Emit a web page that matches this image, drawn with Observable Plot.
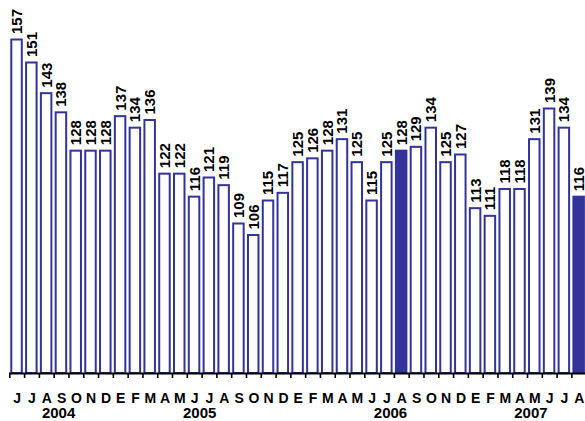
<!DOCTYPE html>
<html>
<head>
<meta charset="utf-8">
<script src="https://cdn.jsdelivr.net/npm/d3@7"></script>
<script src="https://cdn.jsdelivr.net/npm/@observablehq/plot@0.6"></script>
<style>
  html, body { margin: 0; padding: 0; background: #fff; overflow: hidden; }
  #chart svg { display: block; }
</style>
</head>
<body>
<div id="chart"></div>
<script>
// Monthly index, June 2004 – August 2007
const periods = [
  "2004-06","2004-07","2004-08","2004-09","2004-10","2004-11","2004-12",
  "2005-01","2005-02","2005-03","2005-04","2005-05","2005-06","2005-07","2005-08","2005-09","2005-10","2005-11","2005-12",
  "2006-01","2006-02","2006-03","2006-04","2006-05","2006-06","2006-07","2006-08","2006-09","2006-10","2006-11","2006-12",
  "2007-01","2007-02","2007-03","2007-04","2007-05","2007-06","2007-07","2007-08"
];
const values = [
  157,151,143,138,128,128,128,
  137,134,136,122,122,116,121,119,109,106,115,117,
  125,126,128,131,125,115,125,128,129,134,125,127,
  113,111,118,118,131,139,134,116
];
const monthLabels = [
  "J","J","A","S","O","N","D",
  "E","F","M","A","M","J","J","A","S","O","N","D",
  "E","F","M","A","M","J","J","A","S","O","N","D",
  "E","F","M","A","M","J","J","A"
];
const highlighted = ["2006-08","2007-08"];
const yearLabels = ["2004","2005","2006","2007"];
const yearAnchors = ["2004-09","2005-06","2006-07","2007-05"];
const yBase = 70;
const yTop = 160;

const blue = "#333399";
const font = "'Liberation Sans', Arial, Helvetica, sans-serif";

const data = periods.map((p, i) => ({
  period: p,
  value: values[i],
  letter: monthLabels[i],
  filled: highlighted.includes(p)
}));

const W = 585, H = 421;
const xRange = [9.3, 586.2];
const step = (xRange[1] - xRange[0]) / periods.length;
const yearNudge = [-3, 5, 3.5, -4];

const chart = Plot.plot({
  width: W,
  height: H,
  marginTop: 28,
  marginBottom: 48,
  marginLeft: 9,
  marginRight: 0,
  style: {fontFamily: font, background: "#fff", color: "#000"},
  x: {domain: periods, range: xRange, padding: 0, axis: null},
  y: {domain: [yBase, yTop], axis: null},
  marks: [
    Plot.barY(data, {
      x: "period",
      y1: yBase,
      y2: "value",
      insetLeft: 2,
      insetRight: 2.3,
      fill: d => d.filled ? blue : "#fff",
      stroke: blue,
      strokeWidth: 2
    }),
    // value labels, reading upward from the top of each bar
    Plot.text(data, {
      x: "period",
      y: "value",
      text: d => String(d.value),
      rotate: -90,
      textAnchor: "start",
      dy: -6,
      fontSize: 15,
      fontWeight: "bold",
      fill: "#000"
    }),
    // baseline
    Plot.ruleY([yBase], {stroke: "#000", strokeWidth: 2}),
    // tick marks on the month boundaries
    Plot.axisX({
      tickSize: 5,
      tickFormat: () => "",
      label: null,
      dx: -step / 2,
      stroke: "#000",
      strokeWidth: 1.6
    }),
    // month initials
    Plot.text(data, {
      x: "period",
      text: "letter",
      frameAnchor: "bottom",
      lineAnchor: "top",
      dy: 20,
      fontSize: 14,
      fontWeight: "bold",
      fill: "#000"
    }),
    // years
    ...yearLabels.map((label, i) =>
      Plot.text([label], {
        x: () => yearAnchors[i],
        text: d => d,
        frameAnchor: "bottom",
        lineAnchor: "top",
        dy: 34,
        dx: yearNudge[i],
        fontSize: 15,
        fontWeight: "bold",
        fill: "#000"
      })
    )
  ]
});

document.getElementById("chart").appendChild(chart);
</script>
</body>
</html>
